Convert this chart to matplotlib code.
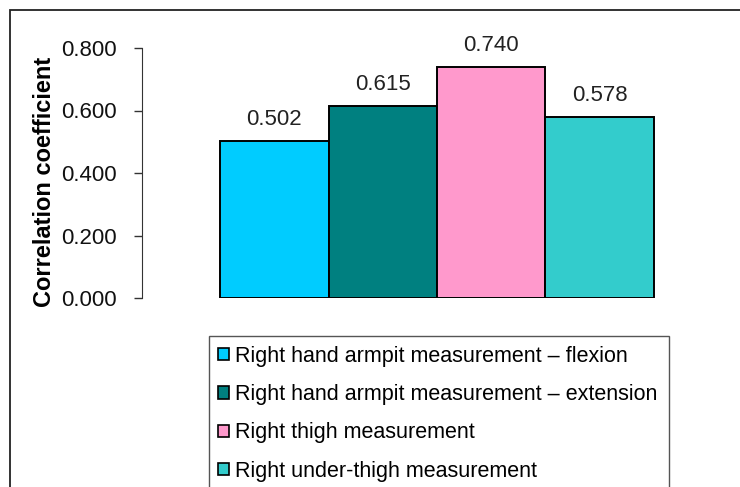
import matplotlib
matplotlib.use("Agg")
import matplotlib.pyplot as plt
from matplotlib.patches import Rectangle, Patch
import numpy as np

plt.rcParams['font.family'] = ['Liberation Sans', 'DejaVu Sans']

# correlation of each measurement
measurements = [
    "Right hand armpit measurement \u2013 flexion",
    "Right hand armpit measurement \u2013 extension",
    "Right thigh measurement",
    "Right under-thigh measurement",
]
coefficients = [0.502, 0.615, 0.740, 0.578]
colors = ["#00CCFF", "#008080", "#FF99CC", "#33CCCC"]
yticks = [0.0, 0.2, 0.4, 0.6, 0.8]


def main():
    W, H = 740, 487
    fig = plt.figure(figsize=(W / 100, H / 100), dpi=100)

    # outer chart frame (left and top edges only show)
    fig.patches.append(Rectangle((10 / W, -0.2), 1.2, (H - 10) / H + 0.2,
                                 transform=fig.transFigure, fill=False,
                                 edgecolor="#222222", linewidth=1.3))

    ax = fig.add_axes([142 / W, (H - 298) / H, (732 - 142) / W, 250 / H])
    x = np.arange(len(coefficients)) - 1.5
    bars = ax.bar(x, coefficients, width=1.0, color=colors,
                  edgecolor="black", linewidth=1.4)
    ax.bar_label(bars, fmt="%.3f", padding=8, fontsize=16, color="#222222")

    ax.set_xlim(-2.72, 2.72)
    ax.set_ylim(0, 0.8)
    ax.set_yticks(yticks)
    ax.set_yticklabels([f"{t:.3f}" for t in yticks], fontsize=16,
                       color="#111111")
    ax.set_xticks([])
    for side in ["top", "right", "bottom"]:
        ax.spines[side].set_visible(False)
    ax.spines["left"].set_color("#333333")
    ax.tick_params(axis="y", direction="out", length=6, width=1,
                   color="#333333", pad=12)
    ax.set_ylabel("Correlation coefficient", fontsize=17, fontweight="bold")
    ax.yaxis.set_label_coords(-0.145, 0.466)

    # legend box, runs off the bottom edge
    fig.patches.append(Rectangle((209 / W, -0.2), (669 - 209) / W,
                                 (H - 336) / H + 0.2,
                                 transform=fig.transFigure, fill=False,
                                 edgecolor="#555555", linewidth=1.0))
    handles = [Patch(facecolor=c, edgecolor="black", linewidth=1.2)
               for c in colors]
    fig.legend(handles, measurements, loc="upper left",
               bbox_to_anchor=(218 / W, 1 - 346 / H), frameon=False,
               fontsize=15.5, handlelength=0.5, handleheight=0.5,
               handletextpad=0.3, labelspacing=0.80, borderaxespad=0,
               borderpad=0)

    fig.savefig("out.png", dpi=100)


if __name__ == "__main__":
    main()
